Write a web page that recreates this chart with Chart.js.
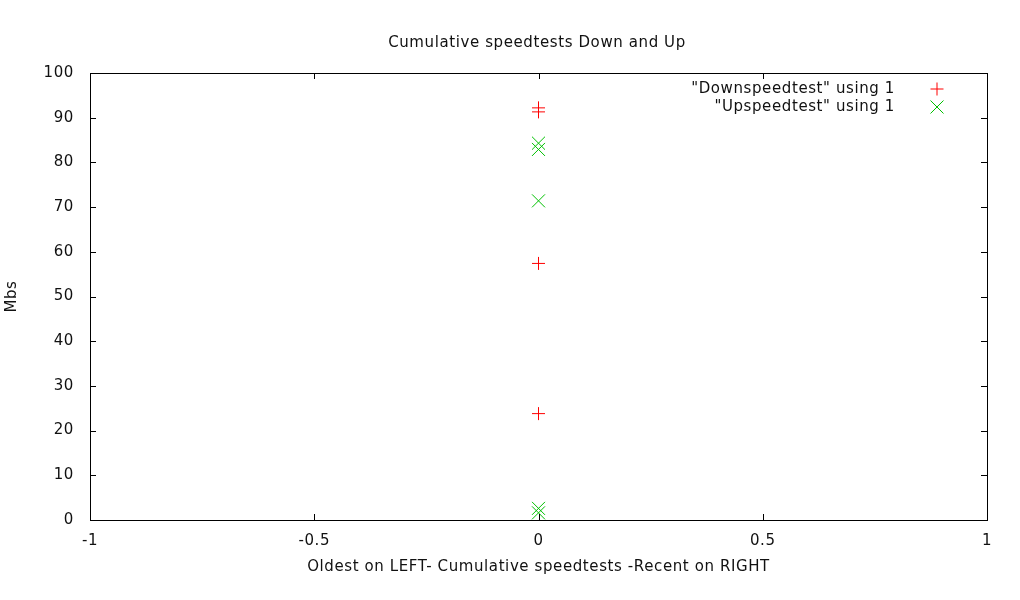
<!DOCTYPE html>
<html>
<head>
<meta charset="utf-8">
<script src="https://cdn.jsdelivr.net/npm/chart.js@4/dist/chart.umd.min.js"></script>
<style>
  html, body { margin: 0; padding: 0; background: #fff; }
  #wrap { width: 1020px; height: 600px; }
</style>
</head>
<body>
<div id="wrap"><canvas id="chart"></canvas></div>
<script>
// values (x is always 0)
const downValues = [92.2, 91.3, 57.4, 23.8];
const upValues = [84.3, 82.9, 71.4, 2.6, 1.6];
const xTicks = [-1, -0.5, 0, 0.5, 1];
const yTicks = [0, 10, 20, 30, 40, 50, 60, 70, 80, 90, 100];
const seriesNames = ['"Downspeedtest" using 1', '"Upspeedtest" using 1'];
const seriesColors = ['#ff0000', '#00c000'];

const FONT = 'DejaVu Sans';
const SIZE = 15;

// gnuplot style: frame box, inward ticks on all four sides, title and key
const gnuplotFrame = {
    id: 'gnuplotFrame',
    beforeDraw(chart) {
        chart.ctx.letterSpacing = '0.6px';
    },
    afterDraw(chart) {
        const { ctx, chartArea: a, scales } = chart;
        ctx.save();
        ctx.letterSpacing = '0.6px';
        ctx.strokeStyle = '#000';
        ctx.lineWidth = 1;
        ctx.strokeRect(Math.round(a.left) + 0.5, Math.round(a.top) + 0.5,
            Math.round(a.right - a.left), Math.round(a.bottom - a.top));
        ctx.beginPath();
        xTicks.forEach(v => {
            const px = Math.round(scales.x.getPixelForValue(v)) + 0.5;
            ctx.moveTo(px, a.bottom); ctx.lineTo(px, a.bottom - 6);
            ctx.moveTo(px, a.top); ctx.lineTo(px, a.top + 6);
        });
        yTicks.forEach(v => {
            const py = Math.round(scales.y.getPixelForValue(v)) + 0.5;
            ctx.moveTo(a.left, py); ctx.lineTo(a.left + 6, py);
            ctx.moveTo(a.right, py); ctx.lineTo(a.right - 6, py);
        });
        ctx.stroke();

        ctx.fillStyle = '#111';
        ctx.font = SIZE + 'px ' + FONT;
        ctx.textAlign = 'center';
        ctx.textBaseline = 'middle';
        ctx.fillText('Cumulative speedtests Down and Up', 537, 43);

        // key
        ctx.textAlign = 'right';
        const styles = ['cross', 'crossRot'];
        [89, 107].forEach((y, i) => {
            ctx.fillStyle = '#111';
            ctx.fillText(seriesNames[i], 895, y);
            ctx.strokeStyle = seriesColors[i];
            Chart.helpers.drawPoint(ctx, { pointStyle: styles[i], radius: i ? 9.2 : 6.5, borderWidth: 1 }, 937, y);
        });
        ctx.restore();
    }
};

new Chart(document.getElementById('chart'), {
    type: 'scatter',
    data: {
        datasets: [
            { label: seriesNames[0], data: downValues.map(v => ({ x: 0, y: v })),
              pointStyle: 'cross', pointRadius: 6.5, borderColor: seriesColors[0], borderWidth: 1 },
            { label: seriesNames[1], data: upValues.map(v => ({ x: 0, y: v })),
              pointStyle: 'crossRot', pointRadius: 9.2, borderColor: seriesColors[1], borderWidth: 1 }
        ]
    },
    options: {
        responsive: true,
        maintainAspectRatio: false,
        animation: false,
        layout: { padding: { top: 73, right: 33, left: 0, bottom: 0 } },
        plugins: { legend: { display: false }, title: { display: false }, tooltip: { enabled: false } },
        scales: {
            x: {
                type: 'linear', min: -1, max: 1,
                afterFit(s) { s.height = 80; },
                afterBuildTicks(s) { s.ticks = xTicks.map(v => ({ value: v })); },
                grid: { display: false, drawTicks: false },
                border: { display: false },
                ticks: { padding: 12, color: '#111', font: { family: FONT, size: SIZE },
                    callback: v => String(v) },
                title: { display: true, text: 'Oldest on LEFT- Cumulative speedtests -Recent on RIGHT',
                    color: '#111', font: { family: FONT, size: SIZE }, padding: { top: 24, bottom: 24 } }
            },
            y: {
                type: 'linear', min: 0, max: 100,
                afterFit(s) { s.width = 90; },
                afterBuildTicks(s) { s.ticks = yTicks.map(v => ({ value: v })); },
                grid: { display: false, drawTicks: false },
                border: { display: false },
                ticks: { padding: 16, color: '#111', font: { family: FONT, size: SIZE } },
                title: { display: true, text: 'Mbs', color: '#111',
                    font: { family: FONT, size: SIZE }, padding: { top: 3, bottom: 3 } }
            }
        }
    },
    plugins: [gnuplotFrame]
});
</script>
</body>
</html>
